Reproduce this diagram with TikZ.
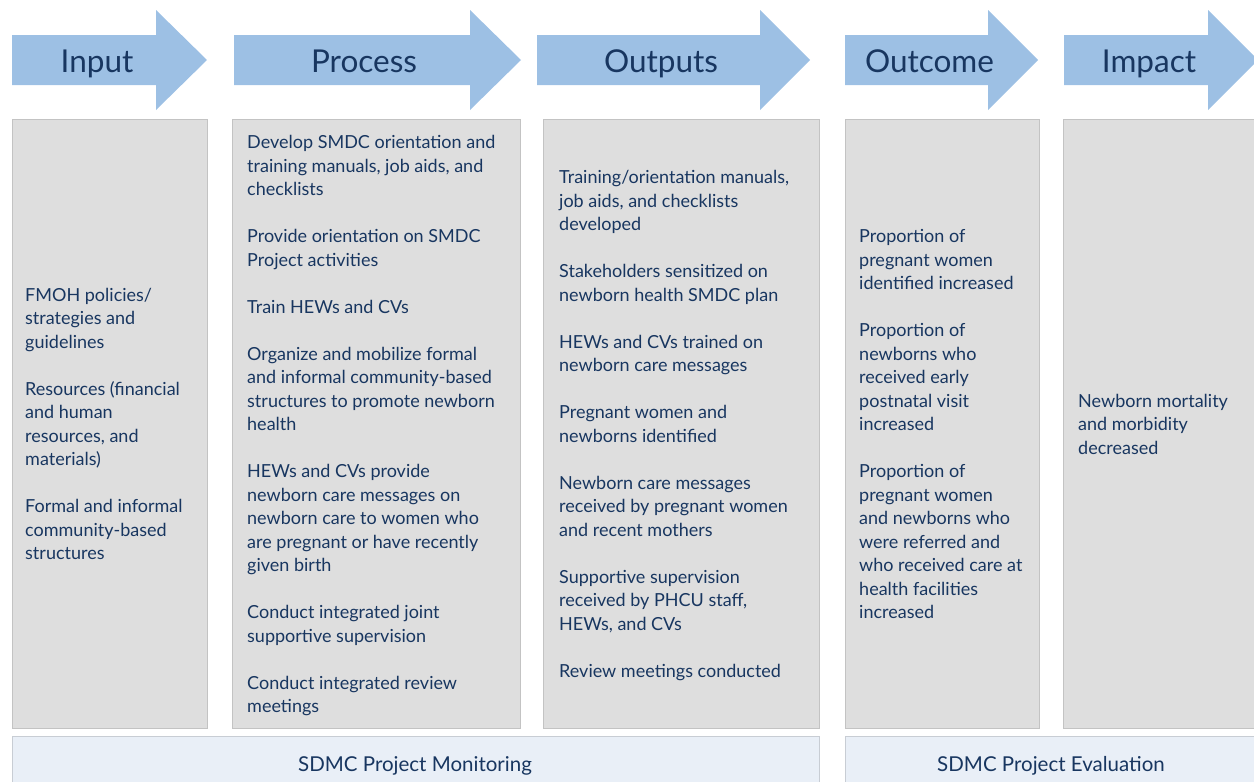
\documentclass[tikz,border=0pt]{standalone}
\usepackage{fontspec}
\setmainfont{Lato}
\definecolor{arrowblue}{RGB}{157,192,228}
\definecolor{navy}{RGB}{24,54,96}
\definecolor{panelgray}{RGB}{222,222,222}
\definecolor{panelline}{RGB}{195,195,195}
\definecolor{bandblue}{RGB}{233,239,247}
\definecolor{bandline}{RGB}{200,205,212}
\tikzset{
  headarrow/.style={fill=arrowblue},
  titletext/.style={text=navy, font=\fontsize{31.5}{36}\selectfont, inner sep=0pt, anchor=base},
  panel/.style={fill=panelgray, draw=panelline, line width=0.8pt},
  band/.style={fill=bandblue, draw=bandline, line width=0.8pt},
  coltext/.style={text=navy, font=\fontsize{18}{23.5}\selectfont, align=left, anchor=west, inner sep=0pt},
  bandtext/.style={text=navy, font=\fontsize{20.5}{24}\selectfont, inner sep=0pt, anchor=base},
}
% block arrow: left edge, head base, tip
\newcommand{\blockarrow}[3]{%
  \fill[headarrow] (#1,35) -- (#2,35) -- (#2,10) -- (#3,60) -- (#2,110) -- (#2,85) -- (#1,85) -- cycle;}
\begin{document}
\begin{tikzpicture}[x=1pt,y=-1pt]
\useasboundingbox (0,0) rectangle (1254,782);

% header arrows
\blockarrow{12}{156}{207}
\blockarrow{234}{470}{521}
\blockarrow{537}{760}{810}
\blockarrow{845}{988}{1038}
\blockarrow{1064}{1208}{1258}
\node[titletext] (tin)  at (97,72.5)   {Input};
\node[titletext] (tpr)  at (364,72.5)  {Process};
\node[titletext] (tout) at (661,72.5)  {Outputs};
\node[titletext] (toc)  at (929.5,72.5) {Outcome};
\node[titletext] (tim)  at (1149,72.5) {Impact};

% column panels
\draw[panel] (12,119) rectangle (207,728);
\draw[panel] (232,119) rectangle (520,728);
\draw[panel] (543,119) rectangle (819,728);
\draw[panel] (845,119) rectangle (1039,728);
\draw[panel] (1063,119) rectangle (1262,728);

% column texts
\node[coltext] (cin) at (25,426) {\strut FMOH policies/\\strategies and\\guidelines\\[23.5pt]
Resources (financial\\and human\\resources, and\\materials)\\[23.5pt]
Formal and informal\\community-based\\structures\strut};

\node[coltext] (cpr) at (247,426) {\strut Develop SMDC orientation and\\training manuals, job aids, and\\checklists\\[23.5pt]
Provide orientation on SMDC\\Project activities\\[23.5pt]
Train HEWs and CVs\\[23.5pt]
Organize and mobilize formal\\and informal community-based\\structures to promote newborn\\health\\[23.5pt]
HEWs and CVs provide\\newborn care messages on\\newborn care to women who\\are pregnant or have recently\\given birth\\[23.5pt]
Conduct integrated joint\\supportive supervision\\[23.5pt]
Conduct integrated review\\meetings\strut};

\node[coltext] (cout) at (559,426) {\strut Training/orientation manuals,\\job aids, and checklists\\developed\\[23.5pt]
Stakeholders sensitized on\\newborn health SMDC plan\\[23.5pt]
HEWs and CVs trained on\\newborn care messages\\[23.5pt]
Pregnant women and\\newborns identified\\[23.5pt]
Newborn care messages\\received by pregnant women\\and recent mothers\\[23.5pt]
Supportive supervision\\received by PHCU staff,\\HEWs, and CVs\\[23.5pt]
Review meetings conducted\strut};

\node[coltext] (coc) at (859,426) {\strut Proportion of\\pregnant women\\identified increased\\[23.5pt]
Proportion of\\newborns who\\received early\\postnatal visit\\increased\\[23.5pt]
Proportion of\\pregnant women\\and newborns who\\were referred and\\who received care at\\health facilities\\increased\strut};

\node[coltext] (cim) at (1078,426) {\strut Newborn mortality\\and morbidity\\decreased\strut};

% bottom bands
\draw[band] (12,736) rectangle (819,790);
\draw[band] (845,736) rectangle (1262,790);
\node[bandtext] (mon) at (415,771) {SDMC Project Monitoring};
\node[bandtext] (eva) at (1051,771) {SDMC Project Evaluation};
\end{tikzpicture}
\end{document}
